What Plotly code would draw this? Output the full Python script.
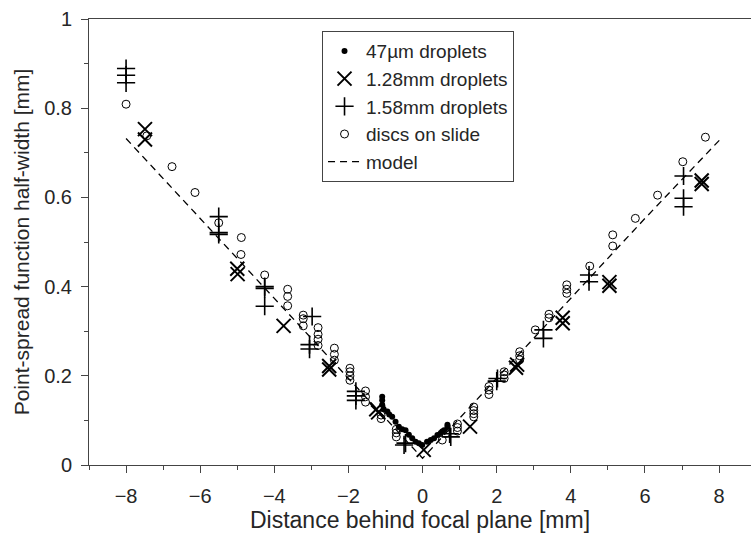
import plotly.graph_objects as go

# 47 µm droplets (filled dots)
dots_x = [-1.09, -1.09, -1.09, -1.05, -0.95, -0.90, -0.82, -0.73, -0.64, -0.55, -0.46, -0.37,
          -0.28, -0.19, -0.10, -0.01, 0.12, 0.22, 0.31, 0.40, 0.49, 0.53, 0.58, 0.67, 0.67]
dots_y = [0.153, 0.145, 0.135, 0.125, 0.120, 0.113, 0.108, 0.097, 0.086, 0.080, 0.078, 0.068,
          0.060, 0.052, 0.049, 0.045, 0.052, 0.056, 0.060, 0.067, 0.072, 0.075, 0.078, 0.090, 0.085]

# 1.28 mm droplets (x markers)
x128_x = [-7.49, -7.49, -5.00, -4.99, -3.75, -2.52, -2.52, -1.25, -1.20, 0.03, 1.28,
          2.52, 2.55, 3.78, 3.78, 5.04, 5.04, 7.53, 7.53]
x128_y = [0.753, 0.730, 0.440, 0.428, 0.312, 0.222, 0.214, 0.125, 0.118, 0.034, 0.086,
          0.218, 0.225, 0.330, 0.318, 0.410, 0.402, 0.638, 0.630]

# 1.58 mm droplets (+ markers)
x158_x = [-8.00, -8.00, -8.00, -5.50, -5.50, -5.50, -4.26, -4.26, -4.26, -2.98, -3.05, -3.05,
          -1.80, -1.80, -1.80, -0.46, -0.50, 0.73, 0.76, 2.02, 2.00, 3.26, 3.26, 4.49, 4.49,
          7.04, 7.04, 7.04]
x158_y = [0.889, 0.874, 0.857, 0.557, 0.521, 0.517, 0.400, 0.396, 0.356, 0.333, 0.270, 0.260,
          0.165, 0.155, 0.145, 0.049, 0.045, 0.070, 0.063, 0.194, 0.188, 0.303, 0.284, 0.426,
          0.411, 0.648, 0.598, 0.579]

# discs on slide (open circles)
disc_x = [-8.00, -7.44, -6.76, -6.14, -5.50, -4.89, -4.90, -4.26, -3.64, -3.64, -3.64,
          -3.22, -3.22, -3.22, -2.82, -2.82, -2.82, -2.82, -2.38, -2.38, -2.38,
          -1.96, -1.96, -1.96, -1.96, -1.54, -1.54, -1.54, -1.12, -1.12,
          -0.71, -0.71, -0.71, 0.53, 0.62, 0.94, 0.94, 0.94, 1.38, 1.38, 1.38, 1.38,
          1.79, 1.79, 1.79, 2.20, 2.20, 2.20, 2.62, 2.62, 2.62, 3.04, 3.41, 3.41,
          3.89, 3.89, 3.89, 4.51, 5.13, 5.13, 5.74, 6.34, 7.02, 7.63]
disc_y = [0.809, 0.738, 0.669, 0.611, 0.543, 0.510, 0.472, 0.426, 0.394, 0.378, 0.357,
          0.336, 0.328, 0.312, 0.308, 0.293, 0.282, 0.268, 0.262, 0.248, 0.235,
          0.217, 0.209, 0.200, 0.190, 0.166, 0.153, 0.141, 0.112, 0.104,
          0.080, 0.072, 0.063, 0.056, 0.071, 0.092, 0.084, 0.076, 0.130, 0.122, 0.115, 0.108,
          0.176, 0.168, 0.158, 0.209, 0.202, 0.194, 0.254, 0.245, 0.236, 0.303, 0.338, 0.330,
          0.404, 0.394, 0.385, 0.446, 0.516, 0.491, 0.553, 0.605, 0.680, 0.735]

# model (dashed)
model_x = [-8.0, -6.0, -4.0, -2.0, -1.0, 0.0, 1.0, 2.0, 4.0, 6.0, 8.05]
model_y = [0.732, 0.553, 0.374, 0.194, 0.105, 0.015, 0.105, 0.194, 0.374, 0.553, 0.732]

xticks = [-8, -6, -4, -2, 0, 2, 4, 6, 8]
yticks = [0, 0.2, 0.4, 0.6, 0.8, 1]
ytick_text = ["0", "0.2", "0.4", "0.6", "0.8", "1"]

FONT = "Liberation Sans, Arial, sans-serif"
INK = "#262626"
AX = "#444444"

fig = go.Figure()
fig.add_trace(go.Scatter(x=dots_x, y=dots_y, mode="markers", name="47µm droplets",
                         marker=dict(symbol="circle", size=6, color="black")))
fig.add_trace(go.Scatter(x=x128_x, y=x128_y, mode="markers", name="1.28mm droplets",
                         marker=dict(symbol="x-thin", size=14, color="black",
                                     line=dict(width=2, color="black"))))
fig.add_trace(go.Scatter(x=x158_x, y=x158_y, mode="markers", name="1.58mm droplets",
                         marker=dict(symbol="cross-thin", size=13, color="black",
                                     line=dict(width=1.6, color="black"))))
fig.add_trace(go.Scatter(x=disc_x, y=disc_y, mode="markers", name="discs on slide",
                         marker=dict(symbol="circle-open", size=8, color="black",
                                     line=dict(width=1, color="black"))))
fig.add_trace(go.Scatter(x=model_x, y=model_y, mode="lines", name="model",
                         line=dict(color="black", width=1.3, dash="7px,5px")))

fig.update_layout(
    width=751, height=541,
    margin=dict(l=89, r=0, t=19, b=76),
    paper_bgcolor="white", plot_bgcolor="white",
    font=dict(family=FONT, color=INK, size=20),
    legend=dict(x=0.352, y=0.973, xanchor="left", yanchor="top",
                bgcolor="white", bordercolor=AX, borderwidth=1,
                font=dict(family=FONT, size=19, color=INK),
                itemwidth=33, tracegroupgap=0),
    showlegend=True,
)
fig.update_xaxes(
    range=[-9, 8.86], tickmode="array", tickvals=xticks,
    ticks="outside", ticklen=7, tickwidth=1, tickcolor=AX,
    showline=True, linecolor=AX, linewidth=1, mirror=True,
    showgrid=False, zeroline=False, ticklabelstandoff=6,
    minor=dict(dtick=1, tick0=-9, ticks="outside", ticklen=4, tickcolor=AX, showgrid=False),
    tickfont=dict(size=20, color=INK, family=FONT),
    title=dict(text="Distance behind focal plane [mm]", font=dict(size=23, color=INK, family=FONT),
               standoff=1),
)
fig.update_yaxes(
    range=[0, 1], tickmode="array", tickvals=yticks, ticktext=ytick_text,
    ticks="outside", ticklen=7, tickwidth=1, tickcolor=AX,
    showline=True, linecolor=AX, linewidth=1, mirror=False,
    showgrid=False, zeroline=False, ticklabelstandoff=5,
    minor=dict(dtick=0.1, tick0=0, ticks="outside", ticklen=4, tickcolor=AX, showgrid=False),
    tickfont=dict(size=20, color=INK, family=FONT),
    title=dict(text="Point-spread function half-width [mm]", font=dict(size=21, color=INK, family=FONT),
               standoff=8),
)

fig.write_html("out.html")
